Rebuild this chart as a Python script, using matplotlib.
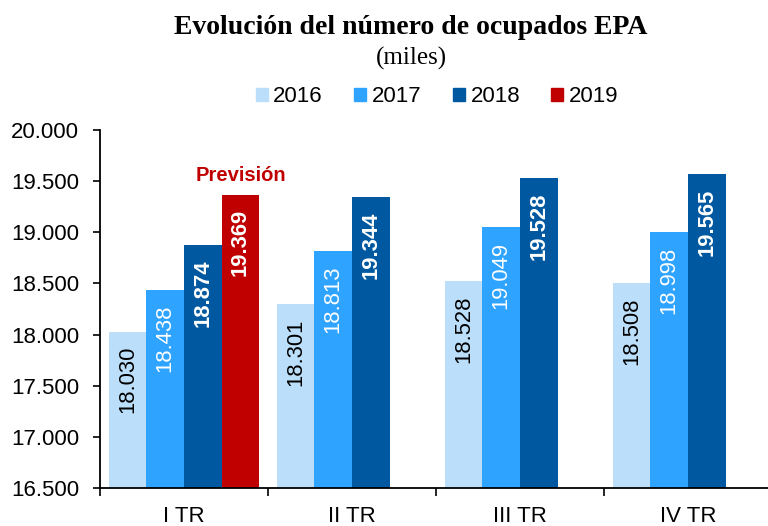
import matplotlib
matplotlib.use('Agg')
import matplotlib.pyplot as plt
from matplotlib.patches import Patch
import numpy as np

# Datos (miles de ocupados)
trimestres = ['I TR', 'II TR', 'III TR', 'IV TR']
anios = ['2016', '2017', '2018', '2019']
ocupados_2016 = [18030, 18301, 18528, 18508]
ocupados_2017 = [18438, 18813, 19049, 18998]
ocupados_2018 = [18874, 19344, 19528, 19565]
ocupados_2019 = [19369]
series = [ocupados_2016, ocupados_2017, ocupados_2018, ocupados_2019]

colores = ['#BBDFFB', '#2EA3FF', '#0059A0', '#C00000']
color_texto = ['black', 'white', 'white', 'white']
peso_texto = ['normal', 'normal', 'bold', 'bold']


def fmt_es(v):
    return f'{v:,}'.replace(',', '.')


fig = plt.figure(figsize=(7.68, 5.26), dpi=100)
ax = fig.add_axes([100 / 768, 38 / 526, 672 / 768, 358 / 526])

ancho = 0.2245
x = np.arange(len(trimestres))
for k, valores in enumerate(series):
    pos = x[:len(valores)] + (k - 1.5) * ancho
    bars = ax.bar(pos, valores, width=ancho, color=colores[k], linewidth=0)
    for bar, v in zip(bars, valores):
        ax.annotate(fmt_es(v), (bar.get_x() + bar.get_width() / 2, v),
                    xytext=(0, -10.5), textcoords='offset points',
                    rotation=90, ha='center', va='top', fontsize=15.8,
                    color=color_texto[k], fontweight=peso_texto[k],
                    family='Liberation Sans')

# Etiqueta de previsión sobre la barra de 2019
ax.annotate('Previsión', (x[0] + 1.5 * ancho, ocupados_2019[0]),
            xytext=(0, 7), textcoords='offset points', ha='center', va='bottom',
            fontsize=14.5, fontweight='bold', color='#C00000',
            family='Liberation Sans')

ax.set_ylim(16500, 20000)
ax.set_yticks(np.arange(16500, 20001, 500))
ax.set_yticklabels([fmt_es(int(t)) for t in ax.get_yticks()],
                   fontsize=16, family='Liberation Sans')
ax.set_xlim(-0.5, 3.5)
ax.set_xticks(np.arange(-0.5, 3.6, 1.0))
ax.set_xticklabels([])
ax.set_xticks(x, minor=True)
ax.set_xticklabels(trimestres, minor=True, fontsize=16, family='Liberation Sans')
ax.tick_params(axis='x', which='minor', length=0, pad=13)
ax.tick_params(axis='x', which='major', direction='out', length=6, width=1.2)
ax.tick_params(axis='y', direction='out', length=5, width=1.2, pad=10)

for s in ['top', 'right']:
    ax.spines[s].set_visible(False)
for s in ['left', 'bottom']:
    ax.spines[s].set_linewidth(1.3)
ax.spines['bottom'].set_clip_on(False)

fig.text(411 / 768, 1 - 27 / 526, 'Evolución del número de ocupados EPA',
         ha='center', va='center', fontsize=20, fontweight='bold',
         family='Liberation Serif')
fig.text(411 / 768, 1 - 58 / 526, '(miles)', ha='center', va='center',
         fontsize=18, family='Liberation Serif')

handles = [Patch(color=c, label=a) for c, a in zip(colores, anios)]
fig.legend(handles=handles, loc='center', bbox_to_anchor=(437 / 768, 1 - 97 / 526),
           ncol=4, frameon=False, handlelength=0.55, handleheight=0.55,
           handletextpad=0.25, columnspacing=1.4,
           prop={'family': 'Liberation Sans', 'size': 16})

plt.savefig('out.png', dpi=100)
plt.close()
